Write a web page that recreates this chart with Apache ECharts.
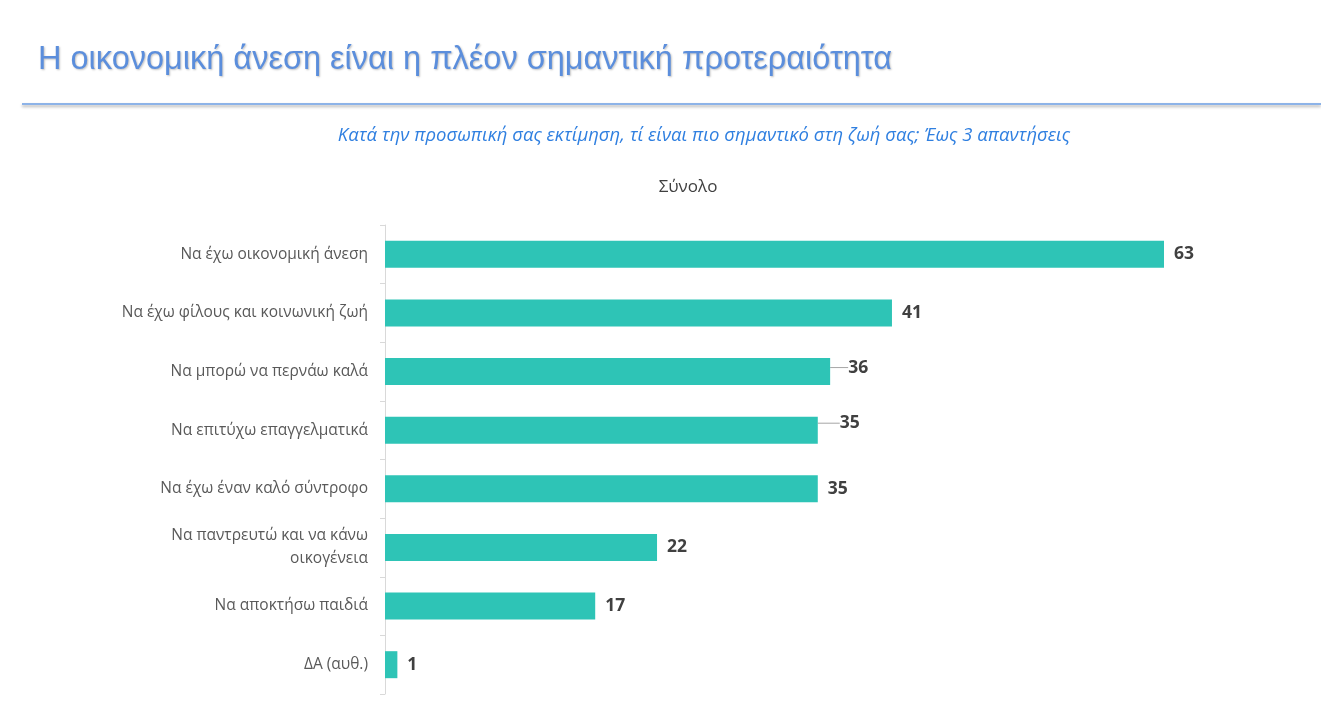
<!DOCTYPE html>
<html>
<head>
	<meta charset="utf-8">
	<title>Η οικονομική άνεση</title>
	<style type="text/css">
		*{ padding: 0; margin: 0; }
		html, body{ width: 100%; height: 100%; background: #fff; }
		#chart{ width: 1321px; height: 708px; }
	</style>
</head>
<body>
	<div id="chart"></div>

<script type="text/javascript" src="https://cdn.jsdelivr.net/npm/echarts@6/dist/echarts.min.js"></script>
<script type="text/javascript">
	// data
	var categories = [
		'Να έχω οικονομική άνεση',
		'Να έχω φίλους και κοινωνική ζωή',
		'Να μπορώ να περνάω καλά',
		'Να επιτύχω επαγγελματικά',
		'Να έχω έναν καλό σύντροφο',
		'Να παντρευτώ και να κάνω\nοικογένεια',
		'Να αποκτήσω παιδιά',
		'ΔΑ (αυθ.)'
	];
	var values = [63, 41, 36, 35, 35, 22, 17, 1];

	// labels pulled up with a small leader line
	var moved = { 2: { dx: 8, dy: -4 }, 3: { dx: 12, dy: -7 } };

	var barData = values.map(function(v, i) {
		return { value: v, labelLine: { show: !!moved[i] } };
	});

	var charts = echarts.init(document.getElementById('chart'));
	var option = {
		animation: false,
		title: [{
			text: 'Η οικονομική άνεση είναι η πλέον σημαντική προτεραιότητα',
			left: 33,
			top: 39,
			textStyle: {
				fontFamily: 'Liberation Sans',
				fontWeight: 'normal',
				fontSize: 32.5,
				color: '#5B8EDC',
				textShadowColor: 'rgba(0,0,0,0.25)',
				textShadowBlur: 2,
				textShadowOffsetX: 1,
				textShadowOffsetY: 1
			}
		}, {
			text: 'Κατά την προσωπική σας εκτίμηση, τί είναι πιο σημαντικό στη ζωή σας; Έως 3 απαντήσεις',
			left: 699,
			textAlign: 'center',
			top: 121,
			textStyle: {
				fontFamily: 'Open Sans',
				fontStyle: 'italic',
				fontWeight: 'normal',
				fontSize: 18.5,
				color: '#2F7FE0'
			}
		}, {
			text: 'Σύνολο',
			left: 683,
			textAlign: 'center',
			top: 174,
			textStyle: {
				fontFamily: 'Open Sans',
				fontWeight: 'normal',
				fontSize: 17,
				color: '#404040'
			}
		}],
		graphic: [{
			type: 'line',
			shape: { x1: 22, y1: 104, x2: 1321, y2: 104 },
			style: {
				stroke: '#8DB3E8',
				lineWidth: 2,
				shadowColor: 'rgba(0,0,0,0.3)',
				shadowBlur: 3,
				shadowOffsetY: 2
			}
		}],
		grid: {
			top: 225,
			bottom: 14,
			left: 385,
			right: 157,
			containLabel: false
		},
		xAxis: {
			type: 'value',
			min: 0,
			max: 63,
			show: false
		},
		yAxis: {
			type: 'category',
			inverse: true,
			data: categories,
			axisLine: {
				show: true,
				lineStyle: { color: '#D9D9D9', width: 1 }
			},
			axisTick: {
				show: true,
				length: 5,
				lineStyle: { color: '#D9D9D9' }
			},
			axisLabel: {
				margin: 17,
				fontFamily: 'Open Sans',
				fontSize: 15.5,
				lineHeight: 23,
				color: '#595959',
				align: 'right'
			}
		},
		series: [{
			type: 'bar',
			data: barData,
			barWidth: 27,
			itemStyle: {
				color: '#2EC4B6'
			},
			label: {
				show: true,
				position: 'right',
				distance: 10,
				fontFamily: 'Open Sans',
				fontWeight: 'bold',
				fontSize: 17.5,
				color: '#404040'
			},
			labelLine: {
				show: false,
				lineStyle: { color: '#A6A6A6', width: 1 }
			},
			labelLayout: function(p) {
				return moved[p.dataIndex] || {};
			}
		}]
	};
	charts.setOption(option);
</script>
</body>
</html>
